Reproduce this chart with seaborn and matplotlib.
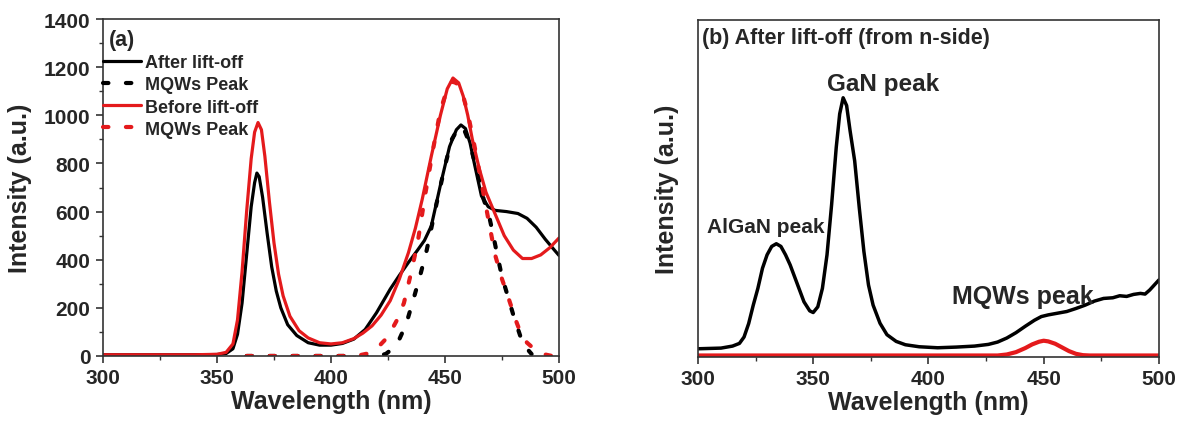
import numpy as np
import matplotlib
matplotlib.use("Agg")
import matplotlib.pyplot as plt
import seaborn as sns

# panel (a) - PL spectra before/after lift-off
wl_after = [300, 320, 340, 350, 354, 357, 359, 361, 363, 365, 366.5, 367.5, 368.5, 370, 372, 374, 376, 378, 381, 385,
            390, 395, 400, 405, 410, 415, 420, 426, 430, 434, 438, 441, 444, 448, 452, 455, 457, 459, 461, 463, 466,
            469, 472, 477, 482, 486, 490, 494, 498, 500]
int_after = [5, 5, 5, 6, 10, 30, 90, 220, 420, 620, 720, 760, 745, 660, 510, 370, 270, 200, 130, 85,
             55, 45, 45, 52, 70, 110, 180, 278, 335, 389, 440, 480, 540, 710, 870, 940, 960, 945, 885, 795, 665,
             620, 605, 600, 592, 572, 535, 485, 440, 418]

wl_before = [300, 320, 340, 350, 354, 357, 359, 361, 363, 365, 366.5, 368, 369.5, 371, 373, 375, 377, 379, 382, 386,
             390, 395, 400, 405, 410, 414, 418, 422, 426, 430, 434, 437, 440, 444, 448, 451, 453.5, 456, 458, 460,
             462, 465, 468, 472, 476, 480, 484, 488, 492, 496, 500]
int_before = [5, 5, 5, 7, 15, 50, 150, 350, 600, 820, 930, 970, 940, 830, 640, 470, 340, 250, 165, 105,
              75, 55, 50, 55, 72, 95, 125, 170, 230, 320, 430, 530, 650, 830, 1000, 1110, 1155, 1135, 1080, 1000,
              900, 780, 680, 590, 500, 440, 405, 405, 420, 450, 490]

wl_mqw_after = [363, 380, 400, 420, 424, 427, 430, 433, 436, 439, 442, 446, 450, 453, 456, 458, 461, 464, 467, 469,
                471, 473, 475, 477.5, 480, 483, 486, 488]
int_mqw_after = [0, 0, 0, 0, 8, 30, 70, 133, 230, 330, 440, 620, 790, 900, 950, 950, 880, 770, 650, 597,
                 510, 417, 330, 250, 170, 84, 30, 8]

wl_mqw_before = [363, 375, 390, 405, 412, 416, 420, 425, 429, 432, 435, 438, 441.5, 445, 448, 451, 453, 455, 458, 460,
                 463, 466, 468, 470, 472, 475, 478, 481, 483, 486, 490, 494, 497]
int_mqw_before = [0, 0, 0, 0, 2, 10, 30, 80, 150, 220, 340, 470, 680, 870, 1020, 1110, 1140, 1135, 1080, 1010,
                  870, 720, 620, 520, 420, 320, 237, 150, 100, 55, 22, 6, 0]

labels_a = ["After lift-off", "MQWs Peak", "Before lift-off", "MQWs Peak"]

# panel (b) - after lift-off from n-side (arb. units)
wl_nside = [300, 310, 315, 318, 320, 322, 324, 326, 328, 330, 332, 334, 336, 338, 340, 343, 346, 348.5, 350, 352,
            354, 356, 358, 360, 361.5, 363, 364.5, 366, 368, 370, 372, 374, 376, 379, 382, 386, 390, 396, 404, 412,
            420, 426, 430, 434, 438, 442, 446, 449, 452, 456, 460, 464, 468, 472, 476, 480, 483, 486, 489, 492,
            494, 496, 498, 500]
int_nside = [0.020, 0.022, 0.028, 0.036, 0.055, 0.095, 0.150, 0.200, 0.260, 0.300, 0.325, 0.333, 0.325, 0.300, 0.270,
             0.215, 0.160, 0.133, 0.128, 0.145, 0.200, 0.300, 0.450, 0.620, 0.720, 0.768, 0.745, 0.670, 0.580, 0.440,
             0.310, 0.210, 0.150, 0.096, 0.062, 0.042, 0.032, 0.026, 0.023, 0.025, 0.028, 0.033, 0.040, 0.052, 0.068,
             0.087, 0.105, 0.116, 0.121, 0.126, 0.131, 0.140, 0.150, 0.162, 0.170, 0.172, 0.178, 0.176, 0.182, 0.185,
             0.183, 0.195, 0.210, 0.225]

wl_nside_mqw = [300, 430, 434, 438, 442, 445, 448, 450, 452, 455, 458, 461, 464, 467, 470, 500]
int_nside_mqw = [0, 0, 0.003, 0.010, 0.022, 0.033, 0.041, 0.044, 0.042, 0.035, 0.024, 0.013, 0.005, 0.001, 0, 0]

sns.set_style("ticks")
plt.rcParams['font.family'] = ['Liberation Sans', 'DejaVu Sans']
plt.rcParams['font.weight'] = 'bold'
plt.rcParams['axes.labelweight'] = 'bold'

RED = '#e41a1c'
DOTS = (0, (1.3, 4.2))

fig = plt.figure(figsize=(11.88, 4.27), dpi=100)
ax1 = fig.add_axes([0.0867, 0.164, 0.3838, 0.789])
ax2 = fig.add_axes([0.5875, 0.162, 0.388, 0.789])

# ---- panel (a)
sns.lineplot(x=wl_after, y=int_after, ax=ax1, color='black', lw=2.3, label=labels_a[0])
sns.lineplot(x=wl_mqw_after, y=int_mqw_after, ax=ax1, color='black', lw=3, linestyle=DOTS,
             dash_capstyle='round', label=labels_a[1])
sns.lineplot(x=wl_before, y=int_before, ax=ax1, color=RED, lw=2.3, label=labels_a[2])
sns.lineplot(x=wl_mqw_before, y=int_mqw_before, ax=ax1, color=RED, lw=3, linestyle=DOTS,
             dash_capstyle='round', label=labels_a[3])

ax1.set_xlim(300, 500)
ax1.set_ylim(0, 1400)
ax1.set_xticks([300, 350, 400, 450, 500])
ax1.set_yticks(range(0, 1401, 200))
ax1.xaxis.set_minor_locator(matplotlib.ticker.MultipleLocator(25))
ax1.yaxis.set_minor_locator(matplotlib.ticker.MultipleLocator(100))
ax1.set_xlabel("Wavelength (nm)", fontsize=18, labelpad=1)
ax1.set_ylabel("Intensity (a.u.)", fontsize=18)
ax1.yaxis.set_label_coords(-0.156, 0.5)
ax1.text(302.5, 1317, "(a)", fontsize=15.5, fontweight='bold', va='center')

handles = ax1.get_lines()[:4]
ax1.legend(handles=handles, labels=labels_a, loc='upper left', bbox_to_anchor=(0, 0.895),
           frameon=False, fontsize=13, borderaxespad=0, borderpad=0, handlelength=2.1,
           handletextpad=0.2, labelspacing=0.28)

# ---- panel (b)
sns.lineplot(x=wl_nside, y=int_nside, ax=ax2, color='black', lw=2.5)
sns.lineplot(x=wl_nside_mqw, y=int_nside_mqw, ax=ax2, color=RED, lw=3)
ax2.set_xlim(300, 500)
ax2.set_ylim(-0.004, 1.0)
ax2.set_xticks([300, 350, 400, 450, 500])
ax2.xaxis.set_minor_locator(matplotlib.ticker.MultipleLocator(25))
ax2.set_yticks([])
ax2.set_xlabel("Wavelength (nm)", fontsize=18, labelpad=1)
ax2.set_ylabel("Intensity (a.u.)", fontsize=18)
ax2.yaxis.set_label_coords(-0.041, 0.5)

ax2.text(301.8, 0.948, "(b) After lift-off (from n-side)", fontsize=15.5, fontweight='bold', va='center')
ax2.text(380.5, 0.81, "GaN peak", fontsize=17.5, fontweight='bold', ha='center', va='center')
ax2.text(329.5, 0.384, "AlGaN peak", fontsize=15, fontweight='bold', ha='center', va='center')
ax2.text(441, 0.178, "MQWs peak", fontsize=18, fontweight='bold', ha='center', va='center')

for ax in (ax1, ax2):
    for sp in ax.spines.values():
        sp.set_visible(True)
        sp.set_linewidth(1.2)
        sp.set_color('#333333')
    ax.tick_params(axis='both', which='major', direction='out', length=5, width=1.2,
                   labelsize=15, pad=4, color='#333333')
    ax.tick_params(axis='both', which='minor', direction='out', length=3, width=1.0, color='#333333')
    for t in ax.get_xticklabels() + ax.get_yticklabels():
        t.set_fontweight('bold')
ax2.tick_params(axis='y', which='both', left=False)

fig.savefig("out.png", dpi=100)
